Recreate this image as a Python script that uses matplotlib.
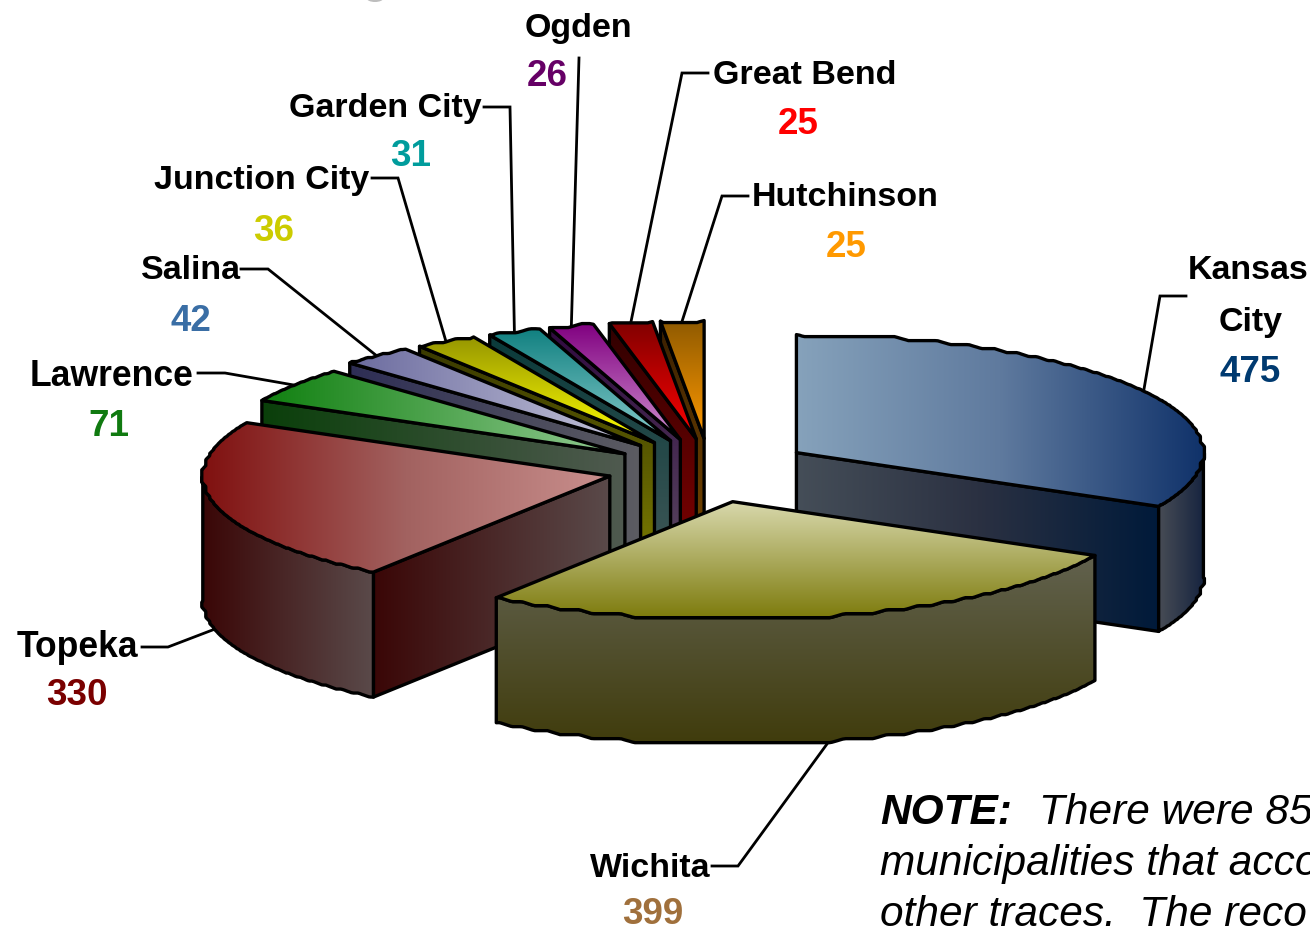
import numpy as np
import matplotlib
matplotlib.use("Agg")
import matplotlib.pyplot as plt
from matplotlib.colors import to_rgb
from matplotlib.patches import Polygon, Ellipse

plt.rcParams['font.family'] = ['Liberation Sans', 'DejaVu Sans']

cities = ["Kansas City", "Wichita", "Topeka", "Lawrence", "Salina", "Junction City",
          "Garden City", "Ogden", "Great Bend", "Hutchinson"]
counts = [475, 399, 330, 71, 42, 36, 31, 26, 25, 25]

# colours: gradient stops of top face and side face, and gradient direction
top_cols = [("#86a2bb", "#5f7a9e", "#10326a"), ("#d8d8ac", "#7d7b0c"), ("#80100f", "#a26260", "#c98f8d"),
            ("#108010", "#95cc95"), ("#6b6b9f", "#c8c8dc"), ("#969600", "#ffff00"),
            ("#108080", "#88cccc"), ("#800080", "#d090d0"), ("#800000", "#ff0000"),
            ("#8f5a00", "#ff9900")]
side_cols = [("#454e58", "#2b3142", "#001a3a"), ("#62624f", "#403c0c"), ("#3a0606", "#5a4a4a"),
             ("#0a3f0a", "#505a50"), ("#2e2e55", "#5c5c62"), ("#3a3a00", "#7a7a00"),
             ("#0a3a3a", "#405858"), ("#300a40", "#5a4860"), ("#300000", "#800000"),
             ("#3a2000", "#7a4800")]
rim_cols = {0: ("#474c55", "#15233f"), 1: side_cols[1], 2: side_cols[2]}
vertical = [False, True, False, False, False, True, True, True, True, True]

cx, cy = 709.6, 468.0
rx, ry = 407.0, 118.0
depth = 125.0
explode = 0.25
lw = 2.4
# small shifts of the exploded slices, the formula is a few px off
nudge = [(0, 0), (-1, 5), (-1, 1), (-2, 3), (-3, 0), (-3, 0), (0, 0), (-2, 0), (3, 0), (0, 0)]

fig = plt.figure(figsize=(13.1, 9.3), dpi=100)
ax = fig.add_axes([0, 0, 1, 1])
ax.set_xlim(0, 1310)
ax.set_ylim(930, 0)
ax.axis("off")

# slice angles, clockwise from 12 o'clock
vals = np.array(counts, dtype=float)
edges = np.concatenate([[0], np.cumsum(vals)]) / vals.sum() * 360.0
mids = (edges[:-1] + edges[1:]) / 2


def on_ellipse(a):
    a = np.radians(a)
    return rx * np.sin(a), -ry * np.cos(a)


def apex_of(i):
    dx, dy = on_ellipse(mids[i])
    return np.array([cx + explode * dx + nudge[i][0], cy + explode * dy + nudge[i][1]])


def rim(i, a0, a1):
    # the rim in the original is a stepped low-res arc, not a smooth one
    ap = apex_of(i)
    a = np.arange(a0, a1, 0.1)
    a = np.append(a, a1)
    x, y = on_ellipse(a)
    q = 4.0
    qx, qy = np.round(x / q) * q, np.round(y / q) * q
    n = 20
    kernel = np.ones(n) / n
    sx = np.convolve(np.pad(qx, n, mode="edge"), kernel, mode="same")[n:-n]
    sy = np.convolve(np.pad(qy, n, mode="edge"), kernel, mode="same")[n:-n]
    pts = np.column_stack([sx, sy])[::4]
    pts[0] = x[0], y[0]
    pts[-1] = x[-1], y[-1]
    return ap + pts


z = [10]


def face(pts, cols, vert):
    z[0] += 1
    pts = np.asarray(pts)
    stops = np.array([to_rgb(c) for c in cols])
    t = np.linspace(0, 1, 256)
    pos = np.linspace(0, 1, len(cols))
    grad = np.column_stack([np.interp(t, pos, stops[:, k]) for k in range(3)])
    img = grad[:, None, :] if vert else grad[None, :, :]
    x0, x1 = pts[:, 0].min(), pts[:, 0].max()
    y0, y1 = pts[:, 1].min(), pts[:, 1].max()
    im = ax.imshow(img, extent=(x0, x1, y1, y0), aspect="auto", zorder=z[0],
                   interpolation="bilinear")
    poly = Polygon(pts, closed=True, facecolor="none", edgecolor="black", lw=lw,
                   joinstyle="round", zorder=z[0] + 0.5)
    ax.add_patch(poly)
    im.set_clip_path(poly)
    z[0] += 1


def draw_slice(i):
    a0, a1 = edges[i], edges[i + 1]
    ap = apex_of(i)
    down = np.array([0, depth])
    arc = rim(i, a0, a1)

    # radial wall: start edge for slices on the left, end edge for Kansas City
    if i == 0:
        p = arc[-1]
        wall = [ap, p, p + down, ap + down]
    elif i >= 2:
        p = arc[0]
        wall = [p, ap, ap + down, p + down]
    else:
        wall = None
    if wall is not None:
        face(wall, side_cols[i], vertical[i] and i != 2)

    # outer wall, only the part that faces the viewer
    lo, hi = max(a0, 90), min(a1, 270)
    if hi > lo:
        part = rim(i, lo, hi)
        outer = np.vstack([part, (part + down)[::-1]])
        face(outer, rim_cols[i], vertical[i])

    top = np.vstack([[ap], arc])
    face(top, top_cols[i], vertical[i])


# back to front
for i in [9, 8, 7, 6, 5, 4, 3, 2, 0, 1]:
    draw_slice(i)

# leaders: fixed elbow, end on the rim at the middle of the slice
elbows = {
    0: [(1186, 296), (1160, 296)],
    1: [(712, 866), (738, 866)],
    2: [(142, 647), (168, 647)],
    3: [(198, 373), (225, 373)],
    4: [(241, 269), (268, 269)],
    5: [(372, 178), (398, 178)],
    6: [(484, 107), (510, 107)],
    7: [(579, 58)],
    8: [(708, 73), (682, 73)],
    9: [(748, 196), (722, 196)],
}
for i, pts in elbows.items():
    dx, dy = on_ellipse(mids[i])
    ap = apex_of(i)
    end = (ap[0] + dx, ap[1] + dy + (depth if 90 < mids[i] < 270 else 0))
    xs = [p[0] for p in pts] + [end[0]]
    ys = [p[1] for p in pts] + [end[1]]
    ax.plot(xs, ys, color="black", lw=2.0, zorder=2, solid_joinstyle="miter")

name_size = 24.5
num_size = 26.5
names = [("Kansas", 1248, 270, name_size), ("City", 1251, 322, name_size), ("Wichita", 650, 868, name_size),
         ("Topeka", 77, 647, 25.6), ("Lawrence", 112, 376, 25.6), ("Salina", 191, 270, name_size),
         ("Junction City", 262, 180, name_size), ("Garden City", 385, 109, name_size),
         ("Ogden", 578, 28, name_size), ("Great Bend", 805, 75, name_size), ("Hutchinson", 845, 197, name_size)]
for s, x, y, size in names:
    ax.text(x, y, s, fontsize=size, fontweight="bold", ha="center", va="center", color="black", zorder=50)

num_cols = ["#003a70", "#a0703c", "#7a0000", "#107a10", "#3a6ea5", "#cccc00",
            "#009c9c", "#660066", "#ff0000", "#ff9900"]
num_pos = [(1250, 372), (653, 914), (77, 695), (109, 426), (191, 321), (274, 231),
           (411, 157), (547, 77), (798, 125), (846, 247)]
for c, col, (x, y) in zip(counts, num_cols, num_pos):
    ax.text(x, y, str(c), fontsize=num_size, fontweight="bold", ha="center", va="center", color=col, zorder=50)

note_size = 30.5
ax.text(880, 824, "NOTE:", fontsize=note_size, fontweight="bold", style="italic", va="baseline", zorder=50)
ax.text(1039, 824, "There were 85", fontsize=note_size, style="italic", va="baseline", zorder=50)
ax.text(880, 875, "municipalities that acco", fontsize=note_size, style="italic", va="baseline", zorder=50)
ax.text(880, 926, "other traces.  The reco", fontsize=note_size, style="italic", va="baseline", zorder=50)

# bit of a cut off title at the top edge
ax.add_patch(Ellipse((375, -2), 17, 8, facecolor="#bdbdbd", edgecolor="none", zorder=1))

ax.set_xlim(0, 1310)
ax.set_ylim(930, 0)
fig.savefig("out.png", dpi=100, facecolor="white")
